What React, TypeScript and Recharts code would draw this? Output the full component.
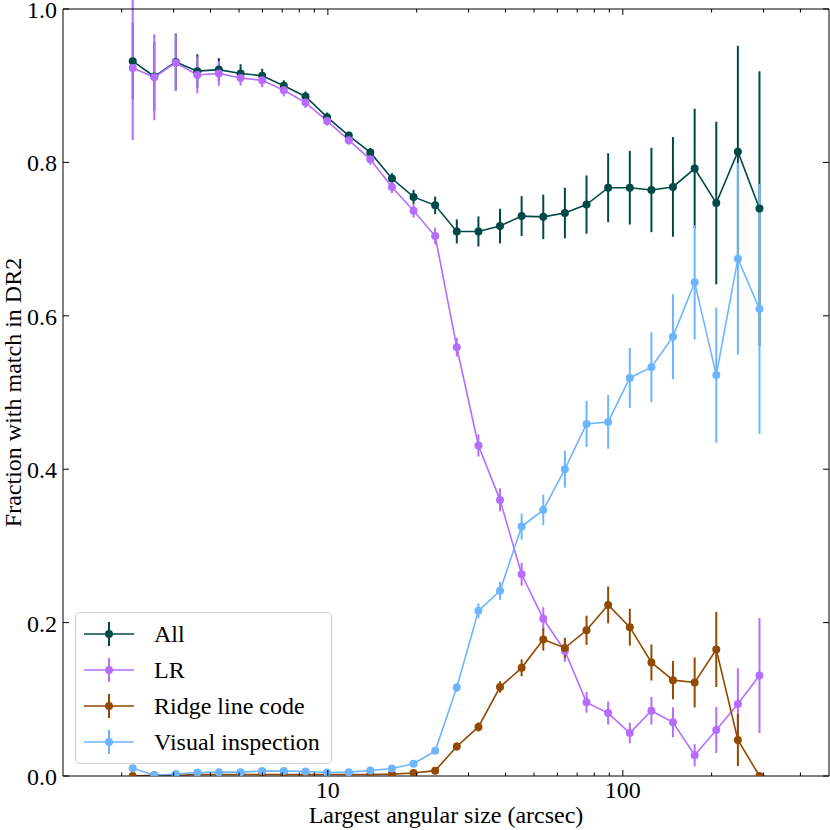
import { LineChart, Line, XAxis, YAxis, ErrorBar, Legend } from "recharts"

const FONT = "'Liberation Serif', 'Times New Roman', serif"

// bin centres (arcsec)
const sizes = [
  2.18, 2.58, 3.05, 3.61, 4.27, 5.06, 5.99, 7.09, 8.40, 9.94,
  11.77, 13.93, 16.49, 19.52, 23.11, 27.36, 32.39, 38.34, 45.39, 53.74,
  63.62, 75.32, 89.17, 105.6, 125.0, 147.9, 175.2, 207.4, 245.5, 290.6
]

const allFrac = [
  0.932, 0.912, 0.931, 0.919, 0.921, 0.916, 0.913, 0.900, 0.886, 0.859,
  0.835, 0.813, 0.779, 0.755, 0.744, 0.710, 0.710, 0.717, 0.730, 0.729,
  0.734, 0.745, 0.767, 0.767, 0.764, 0.768, 0.792, 0.747, 0.814, 0.740
]
const allErr = [
  0.050, 0.045, 0.037, 0.022, 0.015, 0.012, 0.009, 0.007, 0.0065, 0.006,
  0.005, 0.006, 0.007, 0.009, 0.0115, 0.0157, 0.0196, 0.0226, 0.026, 0.029,
  0.033, 0.038, 0.045, 0.048, 0.055, 0.065, 0.078, 0.106, 0.138, 0.179
]

const lrFrac = [
  0.923, 0.911, 0.930, 0.914, 0.916, 0.910, 0.907, 0.894, 0.878, 0.854,
  0.829, 0.804, 0.768, 0.737, 0.704, 0.559, 0.431, 0.360, 0.263, 0.205,
  0.163, 0.096, 0.082, 0.056, 0.085, 0.070, 0.027, 0.060, 0.094, 0.131
]
const lrErr = [
  0.094, 0.056, 0.037, 0.024, 0.016, 0.010, 0.009, 0.008, 0.007, 0.006,
  0.006, 0.007, 0.008, 0.009, 0.011, 0.012, 0.0145, 0.015, 0.015, 0.015,
  0.014, 0.0135, 0.015, 0.0135, 0.018, 0.0195, 0.0145, 0.030, 0.0465, 0.075
]

const ridgeFrac = [
  0, 0.001, 0.001, 0.002, 0.002, 0.002, 0.002, 0.002, 0.002, 0.002,
  0.002, 0.002, 0.0025, 0.004, 0.007, 0.0385, 0.064, 0.116, 0.141, 0.178,
  0.167, 0.190, 0.223, 0.194, 0.148, 0.125, 0.122, 0.165, 0.047, 0
]
const ridgeErr = [
  0, 0.001, 0.001, 0.001, 0.001, 0.001, 0.001, 0.001, 0.001, 0.001,
  0.001, 0.001, 0.002, 0.002, 0.003, 0.005, 0.006, 0.0075, 0.011, 0.0145,
  0.013, 0.019, 0.024, 0.024, 0.0235, 0.025, 0.0326, 0.049, 0.034, 0
]

const visualFrac = [
  0.010, 0.001, 0.0025, 0.0046, 0.005, 0.005, 0.0064, 0.0064, 0.006, 0.0046,
  0.005, 0.0072, 0.0098, 0.0159, 0.0328, 0.1154, 0.2153, 0.2414, 0.3252, 0.3469,
  0.400, 0.459, 0.4616, 0.519, 0.533, 0.5728, 0.6436, 0.5227, 0.6745, 0.6089
]
const visualErr = [
  0.003, 0.001, 0.001, 0.001, 0.001, 0.001, 0.001, 0.001, 0.001, 0.001,
  0.001, 0.002, 0.002, 0.003, 0.004, 0.006, 0.0096, 0.0117, 0.017, 0.020,
  0.024, 0.030, 0.035, 0.039, 0.0456, 0.0554, 0.0745, 0.088, 0.125, 0.163
]

const xMajor = [10, 100]
const xTicks = [2, 3, 4, 5, 6, 7, 8, 9, 10, 20, 30, 40, 50, 60, 70, 80, 90, 100, 200, 300, 400]
const yTicks = [0, 0.2, 0.4, 0.6, 0.8, 1.0]

const series = [
  { key: "all", name: "All", color: "#004949", values: allFrac, errors: allErr },
  { key: "lr", name: "LR", color: "#b66dff", values: lrFrac, errors: lrErr },
  { key: "ridge", name: "Ridge line code", color: "#924900", values: ridgeFrac, errors: ridgeErr },
  { key: "visual", name: "Visual inspection", color: "#6db6ff", values: visualFrac, errors: visualErr }
]

const data = sizes.map((size, i) => {
  const row: any = { size }
  series.forEach(s => {
    row[s.key] = s.values[i]
    row[s.key + "Err"] = s.errors[i]
  })
  return row
})

// ticks point inwards, like matplotlib's direction="in"
function BottomTick({ x, y, payload }: any) {
  const major = xMajor.includes(payload.value)
  return (
    <g>
      <line x1={x} x2={x} y1={y} y2={y - (major ? 6 : 3.5)} stroke="#000" strokeWidth={1} />
      {major && (
        <text x={x} y={y + 22} textAnchor="middle" fontSize={24} fontFamily={FONT} fill="#000">
          {payload.value}
        </text>
      )}
    </g>
  )
}

function TopTick({ x, y, payload }: any) {
  const major = xMajor.includes(payload.value)
  return <line x1={x} x2={x} y1={y} y2={y + (major ? 6 : 3.5)} stroke="#000" strokeWidth={1} />
}

function LeftTick({ x, y, payload }: any) {
  return (
    <g>
      <line x1={x} x2={x + 6} y1={y} y2={y} stroke="#000" strokeWidth={1} />
      <text x={x - 6} y={y + 9} textAnchor="end" fontSize={24} fontFamily={FONT} fill="#000">
        {payload.value.toFixed(1)}
      </text>
    </g>
  )
}

function RightTick({ x, y }: any) {
  return <line x1={x} x2={x - 6} y1={y} y2={y} stroke="#000" strokeWidth={1} />
}

function XTitle({ viewBox }: any) {
  return (
    <text x={viewBox.x + viewBox.width / 2} y={viewBox.y + 47} textAnchor="middle"
      fontSize={24} fontFamily={FONT} fill="#000">
      Largest angular size (arcsec)
    </text>
  )
}

function YTitle({ viewBox }: any) {
  const cx = viewBox.x + 21
  const cy = viewBox.y + viewBox.height / 2
  return (
    <text x={cx} y={cy} transform={`rotate(-90, ${cx}, ${cy})`} textAnchor="middle"
      fontSize={24} fontFamily={FONT} fill="#000">
      Fraction with match in DR2
    </text>
  )
}

function LegendBox() {
  return (
    <div style={{
      boxSizing: "border-box", width: 257, height: 152, padding: "3px 0 0 0",
      border: "1px solid #d0d0d0", borderRadius: 5, background: "rgba(255,255,255,0.8)",
      fontFamily: FONT, fontSize: 24
    }}>
      {series.map(s => (
        <div key={s.key} style={{ display: "flex", alignItems: "center", height: 36 }}>
          <svg width={50} height={24} style={{ marginLeft: 8, flex: "none" }}>
            <line x1={0} x2={50} y1={12} y2={12} stroke={s.color} strokeWidth={1.6} />
            <line x1={25} x2={25} y1={0} y2={24} stroke={s.color} strokeWidth={2} />
            <circle cx={25} cy={12} r={4} fill={s.color} />
          </svg>
          <span style={{ marginLeft: 20, color: "#000", whiteSpace: "nowrap", lineHeight: "36px" }}>{s.name}</span>
        </div>
      ))}
    </div>
  )
}

export default function App() {
  return (
    <div style={{ position: "absolute", left: 0, top: 0, background: "#fff" }}>
      <LineChart width={830} height={830} data={data}
        margin={{ top: 8, right: 0, bottom: 0, left: 0 }}>

        <XAxis xAxisId="bottom" dataKey="size" type="number" scale="log"
          domain={[1.265, 500]} allowDataOverflow ticks={xTicks} interval={0}
          height={54} tickSize={0} tickMargin={0} tick={<BottomTick />}
          axisLine={{ stroke: "#000", strokeWidth: 1 }} tickLine={false}
          label={<XTitle />} />

        <XAxis xAxisId="top" orientation="top" dataKey="size" type="number" scale="log"
          domain={[1.265, 500]} allowDataOverflow ticks={xTicks} interval={0}
          height={1} tickSize={0} tickMargin={0} tick={<TopTick />}
          axisLine={{ stroke: "#000", strokeWidth: 1 }} tickLine={false} />

        <YAxis yAxisId="left" type="number" domain={[0, 1]} allowDataOverflow
          ticks={yTicks} interval={0} width={63} tickSize={0} tickMargin={0}
          tick={<LeftTick />} axisLine={{ stroke: "#000", strokeWidth: 1 }} tickLine={false}
          label={<YTitle />} />

        <YAxis yAxisId="right" orientation="right" type="number" domain={[0, 1]} allowDataOverflow
          ticks={yTicks} interval={0} width={1} tickSize={0} tickMargin={0}
          tick={<RightTick />} axisLine={{ stroke: "#000", strokeWidth: 1 }} tickLine={false} />

        {series.map(s => (
          <Line key={s.key} xAxisId="bottom" yAxisId="left" dataKey={s.key} name={s.name}
            type="linear" stroke={s.color} strokeWidth={1.6}
            dot={{ r: 4, fill: s.color, stroke: s.color, strokeWidth: 0 }}
            activeDot={false} isAnimationActive={false}>
            <ErrorBar dataKey={s.key + "Err"} direction="y" width={0}
              stroke={s.color} strokeWidth={2} isAnimationActive={false} />
          </Line>
        ))}

        <Legend layout="vertical" align="center" verticalAlign="middle"
          wrapperStyle={{ left: 75, top: 612, width: "auto" }}
          content={() => <LegendBox />} />
      </LineChart>
    </div>
  )
}
